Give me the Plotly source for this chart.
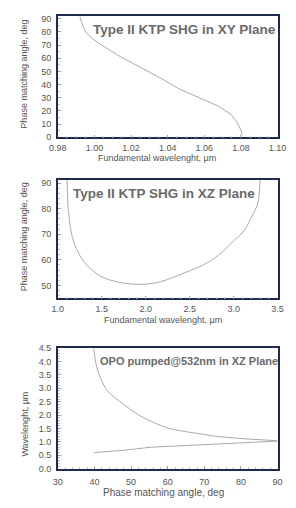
import plotly.graph_objects as go

# Plot 1: Type II KTP SHG in XY plane
xy_wavelength = [0.9920, 0.9937, 0.9954, 0.9992, 1.0060, 1.0146, 1.0232, 1.0317, 1.0380,
                 1.0455, 1.0575, 1.0678, 1.0746, 1.0780, 1.0801, 1.0806]
xy_angle = [91.7, 84.3, 79.4, 74.4, 68.2, 60.8, 54.5, 48.4, 43.5,
            37.2, 29.8, 23.6, 17.3, 11.2, 5.0, 1.3]

# Plot 2: Type II KTP SHG in XZ plane
xz_wavelength = [1.105, 1.114, 1.124, 1.160, 1.230, 1.320, 1.486, 1.699, 1.912, 2.088,
                 2.250, 2.440, 2.660, 2.830, 3.010, 3.120, 3.220, 3.275, 3.295, 3.300]
xz_angle = [91.3, 81.7, 77.9, 69.5, 63.0, 58.3, 53.6, 51.2, 50.4, 50.8,
            52.3, 54.9, 58.1, 61.9, 67.7, 71.5, 77.9, 82.0, 88.0, 91.3]

# Plot 3: OPO pumped @532nm in XZ plane
opo_angle_hi = [39.8, 40.6, 41.9, 43.6, 47.5, 51.8, 56.9, 60.5, 64.6, 69.8, 73.1, 77.0, 81.6, 85.5, 90.0]
opo_wl_hi = [4.5, 3.80, 3.30, 2.90, 2.45, 2.03, 1.68, 1.50, 1.39, 1.28, 1.21, 1.16, 1.11, 1.08, 1.04]
opo_angle_lo = [39.8, 48.3, 55.2, 59.9, 64.6, 73.1, 81.6, 90.0]
opo_wl_lo = [0.60, 0.69, 0.80, 0.83, 0.88, 0.94, 0.99, 1.03]

x1_ticks = [0.98, 1.00, 1.02, 1.04, 1.06, 1.08, 1.10]
y1_ticks = [0, 10, 20, 30, 40, 50, 60, 70, 80, 90]
x2_ticks = [1.0, 1.5, 2.0, 2.5, 3.0, 3.5]
y2_ticks = [50, 60, 70, 80, 90]
x3_ticks = [30, 40, 50, 60, 70, 80, 90]
y3_ticks = [0.0, 0.5, 1.0, 1.5, 2.0, 2.5, 3.0, 3.5, 4.0, 4.5]

W, H = 296, 508
CURVE = "#a9a9a9"
FRAME = "#1d2c4c"
TXT = "#555555"
FONT = "Liberation Sans, Arial, sans-serif"

fig = go.Figure()
fig.add_trace(go.Scatter(x=xy_wavelength, y=xy_angle, mode="lines", line=dict(color=CURVE, width=1),
                         xaxis="x", yaxis="y", showlegend=False))
fig.add_trace(go.Scatter(x=xz_wavelength, y=xz_angle, mode="lines", line=dict(color=CURVE, width=1, shape="spline"),
                         xaxis="x2", yaxis="y2", showlegend=False))
fig.add_trace(go.Scatter(x=opo_angle_hi, y=opo_wl_hi, mode="lines", line=dict(color=CURVE, width=1, shape="spline"),
                         xaxis="x3", yaxis="y3", showlegend=False))
fig.add_trace(go.Scatter(x=opo_angle_lo, y=opo_wl_lo, mode="lines", line=dict(color=CURVE, width=1),
                         xaxis="x3", yaxis="y3", showlegend=False))

xdom = [52 / W, 286 / W]
def ydom(top, bottom):
    return [1 - bottom / H, 1 - top / H]

def ax(domain, rng, ticks, fmt, anchor, minor_dtick, standoff=None):
    d = dict(domain=domain, range=rng, tickvals=ticks, ticktext=[fmt.format(t) for t in ticks],
             showline=True, linecolor=FRAME, linewidth=1.5, mirror=True, showgrid=False, zeroline=False,
             ticks="inside", ticklen=3, tickcolor="#8fa6c0", anchor=anchor,
             tickfont=dict(family=FONT, size=9, color=TXT),
             minor=dict(ticks="inside", ticklen=2, tickcolor="#b8c8da", dtick=minor_dtick, showgrid=False))
    if standoff is not None:
        d["ticklabelstandoff"] = standoff
    return d

layout = dict(
    width=W, height=H, margin=dict(l=0, r=0, t=0, b=0),
    paper_bgcolor="white", plot_bgcolor="white", showlegend=False,
    xaxis=ax(xdom, [0.98, 1.10], x1_ticks, "{:.2f}", "y", 0.005, 1),
    yaxis=ax(ydom(11.7, 135), [0, 91.7], y1_ticks, "{:d}", "x", 5, 3),
    xaxis2=ax(xdom, [1.0, 3.5], x2_ticks, "{:.1f}", "y2", 0.1, 1),
    yaxis2=ax(ydom(178.3, 299.3), [44.9, 91.3], y2_ticks, "{:d}", "x2", 2, 3),
    xaxis3=ax(xdom, [30, 90], x3_ticks, "{:d}", "y3", 2, 4),
    yaxis3=ax(ydom(350, 473), [0, 4.5], y3_ticks, "{:.1f}", "x3", 0.1, 3),
)
fig.update_layout(**layout)

def ann(text, xpx, ypx, size, angle=0, color=TXT, bold=False):
    fig.add_annotation(text=("<b>%s</b>" % text) if bold else text, x=xpx / W, y=1 - ypx / H,
                       xref="paper", yref="paper", showarrow=False, textangle=angle,
                       font=dict(family=FONT, size=size, color=color), xanchor="center", yanchor="middle")

# Plot titles
ann("Type II KTP SHG in XY Plane", 186.5, 25, 13.5, color="#6a6a6a", bold=True)
ann("Type II KTP SHG in XZ Plane", 165.5, 192.7, 13.5, color="#6a6a6a", bold=True)
ann("OPO pumped@532nm in XZ Plane", 192, 363, 11, color="#6a6a6a", bold=True)

# Axis titles
ann("Phase matching angle, deg", 16, 71, 9, angle=-90)
ann("Fundamental wavelenght, µm", 158, 156.5, 9)
ann("Phase matching angle, deg", 16, 237, 9, angle=-90)
ann("Fundamental wavelenght, µm", 164, 321.5, 9)
ann("Wavelenght, µm", 17, 427, 9, angle=-90)
ann("Phase matching angle, deg", 164, 497, 10)

fig.write_html("out.html")
